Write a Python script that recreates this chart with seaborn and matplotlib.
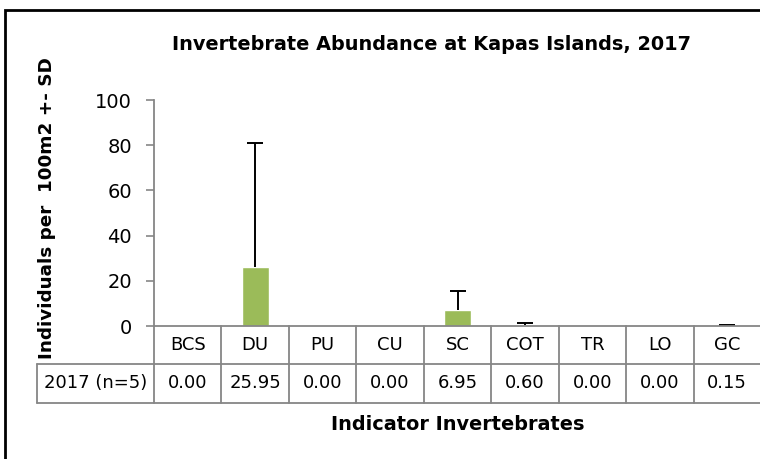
import matplotlib
matplotlib.use("Agg")
import matplotlib.pyplot as plt
import seaborn as sns
from matplotlib.patches import Rectangle

# Data
categories = ["BCS", "DU", "PU", "CU", "SC", "COT", "TR", "LO", "GC"]
means = [0.00, 25.95, 0.00, 0.00, 6.95, 0.60, 0.00, 0.00, 0.15]
sds = [0.0, 54.9, 0.0, 0.0, 8.7, 0.7, 0.0, 0.0, 0.3]
row_label = "2017 (n=5)"
yticks = [0, 20, 40, 60, 80, 100]

sns.set_style("white")
plt.rcParams["font.family"] = ["DejaVu Sans"]
plt.rcParams["text.color"] = "black"

W, H = 760, 459
GRAY = "#868686"
GREEN = "#9BBB59"
FS = 13
BFS = 13.9

fig = plt.figure(figsize=(W / 100, H / 100), dpi=100)
ax = fig.add_axes([154 / W, 133 / H, 607 / W, 226 / H])

sns.barplot(x=categories, y=means, color=GREEN, saturation=1, width=0.4, ax=ax)

# plus-only error bars (only where SD > 0)
idx = [i for i, s in enumerate(sds) if s > 0]
eb = ax.errorbar(idx, [means[i] for i in idx],
                 yerr=[[0] * len(idx), [sds[i] for i in idx]],
                 fmt="none", ecolor="black", elinewidth=1.4, capsize=6, capthick=1.4)
eb[1][0].set_visible(False)  # drop the lower caps

ax.set_xlim(-0.5, len(categories) - 0.5)
ax.set_ylim(0, 100)
ax.set_yticks(yticks)
ax.set_xticks([])
ax.set_xlabel("")
ax.set_ylabel("")
ax.tick_params(axis="y", left=True, direction="out", length=6, color=GRAY, width=1.2,
               labelsize=14, labelcolor="black", pad=10)
for side in ["top", "right"]:
    ax.spines[side].set_visible(False)
for side in ["left", "bottom"]:
    ax.spines[side].set_color(GRAY)
    ax.spines[side].set_linewidth(1.3)

# data table under the axis
xt = ax.get_xaxis_transform()
row_mid = (326 - 364) / 226
row_bot = (326 - 403) / 226
label_left = (37 - 154) / 607
n = len(categories)
for i, (c, v) in enumerate(zip(categories, means)):
    ax.text(i, row_mid / 2, c, transform=xt, ha="center", va="center", fontsize=FS)
    ax.text(i, (row_mid + row_bot) / 2, f"{v:.2f}", transform=xt,
            ha="center", va="center", fontsize=FS)
for b in range(n + 1):
    ax.plot([b - 0.5, b - 0.5], [0, row_bot], transform=xt, color=GRAY,
            lw=1.3, clip_on=False)
for yy in [row_mid, row_bot]:
    ax.plot([label_left, 1.01], [yy, yy], transform=ax.transAxes, color=GRAY,
            lw=1.3, clip_on=False)
ax.plot([label_left, label_left], [row_mid, row_bot], transform=ax.transAxes,
        color=GRAY, lw=1.3, clip_on=False)
ax.text(label_left / 2, (row_mid + row_bot) / 2, row_label, transform=ax.transAxes,
        ha="center", va="center", fontsize=FS)

# titles
fig.text(432 / W, 1 - 45 / H, "Invertebrate Abundance at Kapas Islands, 2017",
         ha="center", va="center", fontsize=BFS, fontweight="bold")
fig.text(47 / W, 1 - 208 / H, "Individuals per  100m2 +- SD", rotation=90,
         ha="center", va="center", fontsize=13.2, fontweight="bold")
fig.text(458 / W, 1 - 425 / H, "Indicator Invertebrates",
         ha="center", va="center", fontsize=BFS, fontweight="bold")

# chart area border
fig.patches.append(Rectangle((5 / W, -0.1), 1.2, 1.1 - 10 / H, transform=fig.transFigure,
                             fill=False, edgecolor="black", lw=2))

fig.savefig("out.png", dpi=100)
